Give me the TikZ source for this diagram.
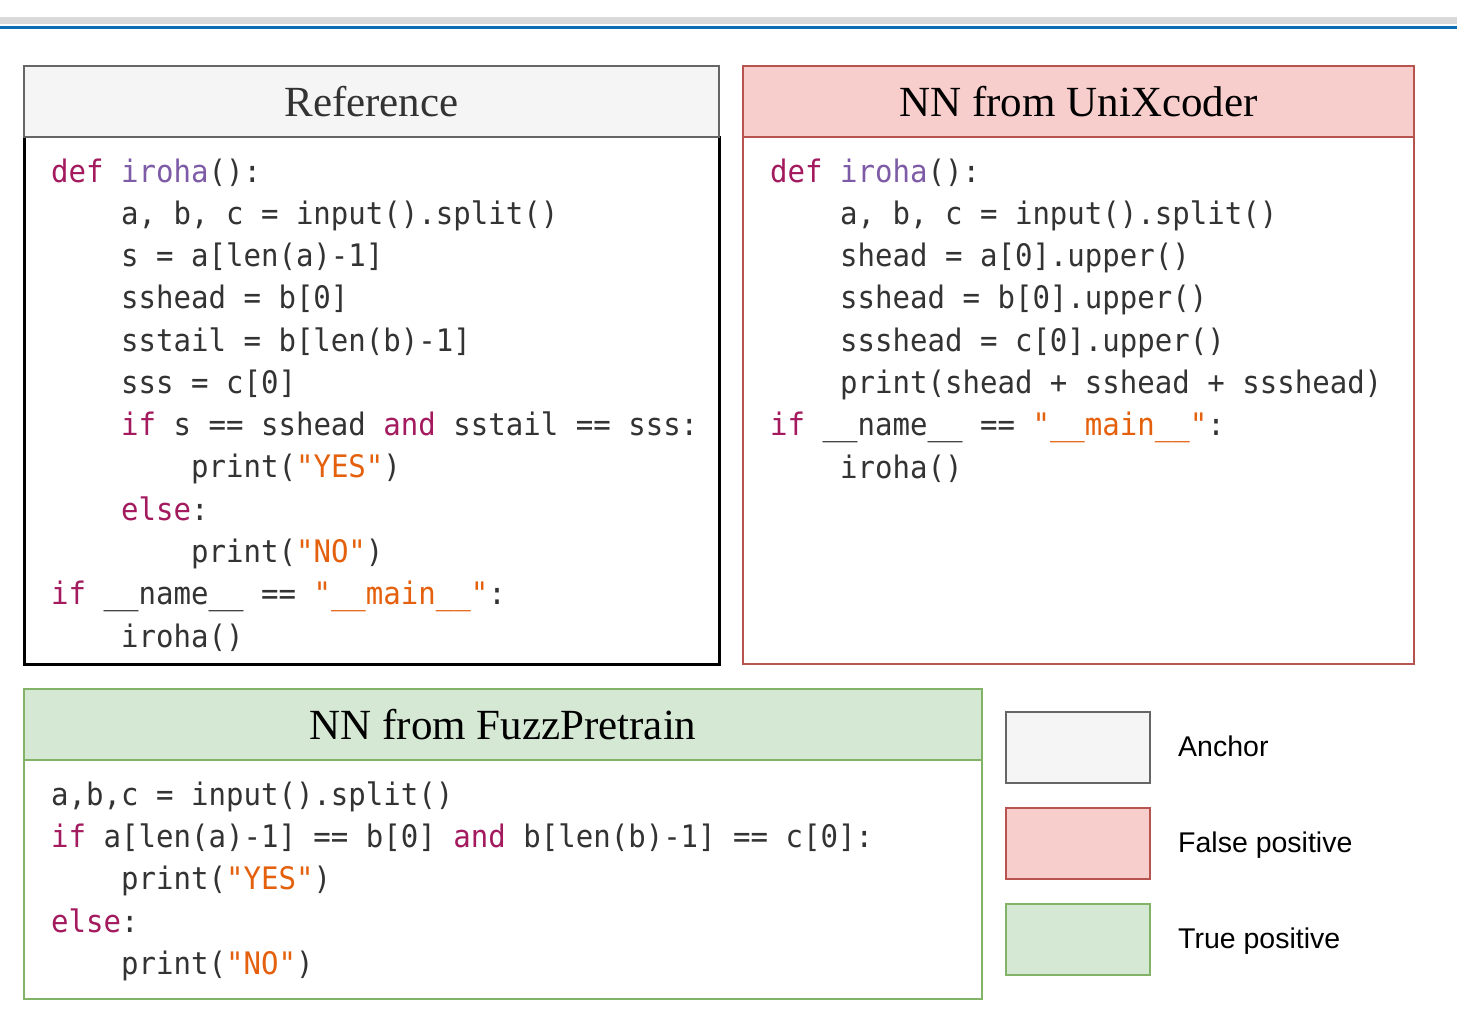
\documentclass[tikz,border=0pt]{standalone}
\usepackage{fontspec}
\usetikzlibrary{positioning}

\newfontfamily\codefont{DejaVu Sans Mono}[FakeStretch=0.937]
\newfontfamily\titlefont{Liberation Serif}
\newfontfamily\keyfont{Liberation Sans}

\definecolor{kwcol}{HTML}{A31A5E}
\definecolor{fncol}{HTML}{7D5BA6}
\definecolor{strcol}{HTML}{E4600C}
\definecolor{txtcol}{HTML}{333333}
\definecolor{anchorfill}{HTML}{F5F5F5}
\definecolor{anchorline}{HTML}{666666}
\definecolor{fpfill}{HTML}{F8CECC}
\definecolor{fpline}{HTML}{B85450}
\definecolor{tpfill}{HTML}{D5E8D4}
\definecolor{tpline}{HTML}{82B366}
\definecolor{rulecol}{HTML}{0B6DB3}

% syntax colouring
\newcommand{\kwd}[1]{\textcolor{kwcol}{#1}}
\newcommand{\fnm}[1]{\textcolor{fncol}{#1}}
\newcommand{\strg}[1]{\textcolor{strcol}{#1}}
\newcommand{\ind}{\phantom{iiii}}

\tikzset{
  head/.style={draw, line width=2pt, minimum height=71pt, inner sep=0pt,
    anchor=north west, font=\titlefont\fontsize{43}{50}\selectfont},
  body/.style={draw, line width=2pt, fill=white, inner sep=0pt, anchor=north west},
  % code blocks sit on the baseline of their last line
  code/.style={anchor=base west, align=left, inner sep=0pt, text=txtcol,
    font=\codefont\fontsize{31}{42.27}\selectfont},
  keybox/.style={draw, line width=2pt, minimum width=144pt, minimum height=71pt, inner sep=0pt},
  keytext/.style={inner sep=0pt, text height=18pt, text depth=0pt,
    font=\keyfont\fontsize{28.5}{34}\selectfont},
}

\begin{document}
\begin{tikzpicture}[x=1pt, y=-1pt]
\useasboundingbox (0,0) rectangle (1457,1030);

% rule at the top
\draw[gray!30, line width=7pt] (0,21) -- (1457,21);
\draw[rulecol, line width=3pt] (0,27.5) -- (1457,27.5);

% anchor
\node[body, draw=black, line width=2.5pt, minimum width=695pt, minimum height=527pt] (refbody) at (23,136) {};
\node[head, fill=anchorfill, draw=anchorline, text=txtcol, minimum width=695pt] (refhead) at (23,65) {Reference};
\node[code] (refcode) at (51,647) {%
\kwd{def} \fnm{iroha}():\\
\ind a, b, c = input().split()\\
\ind s = a[len(a)-1]\\
\ind sshead = b[0]\\
\ind sstail = b[len(b)-1]\\
\ind sss = c[0]\\
\ind \kwd{if} s == sshead \kwd{and} sstail == sss:\\
\ind\ind print(\strg{"YES"})\\
\ind \kwd{else}:\\
\ind\ind print(\strg{"NO"})\\
\kwd{if} \_\_name\_\_ == \strg{"\_\_main\_\_"}:\\
\ind iroha()};

% false positive
\node[body, draw=fpline, minimum width=671pt, minimum height=527pt] (unibody) at (742,136) {};
\node[head, fill=fpfill, draw=fpline, minimum width=671pt] (unihead) at (742,65) {NN from UniXcoder};
\node[code] (unicode) at (770,478) {%
\kwd{def} \fnm{iroha}():\\
\ind a, b, c = input().split()\\
\ind shead = a[0].upper()\\
\ind sshead = b[0].upper()\\
\ind ssshead = c[0].upper()\\
\ind print(shead + sshead + ssshead)\\
\kwd{if} \_\_name\_\_ == \strg{"\_\_main\_\_"}:\\
\ind iroha()};

% true positive
\node[body, draw=tpline, minimum width=958pt, minimum height=239pt] (fuzzbody) at (23,759) {};
\node[head, fill=tpfill, draw=tpline, minimum width=958pt] (fuzzhead) at (23,688) {NN from FuzzPretrain};
\node[code] (fuzzcode) at (51,974.5) {%
a,b,c = input().split()\\
\kwd{if} a[len(a)-1] == b[0] \kwd{and} b[len(b)-1] == c[0]:\\
\ind print(\strg{"YES"})\\
\kwd{else}:\\
\ind print(\strg{"NO"})};

% legend
\node[keybox, fill=anchorfill, draw=anchorline] (anchorkey) at (1078,747.5) {};
\node[keybox, fill=fpfill, draw=fpline] (fpkey) at (1078,843.5) {};
\node[keybox, fill=tpfill, draw=tpline] (tpkey) at (1078,939.5) {};
\node[keytext, right=27pt of anchorkey] (anchorlbl) {Anchor};
\node[keytext, right=27pt of fpkey] (fplbl) {False positive};
\node[keytext, right=27pt of tpkey] (tplbl) {True positive};
\end{tikzpicture}
\end{document}
